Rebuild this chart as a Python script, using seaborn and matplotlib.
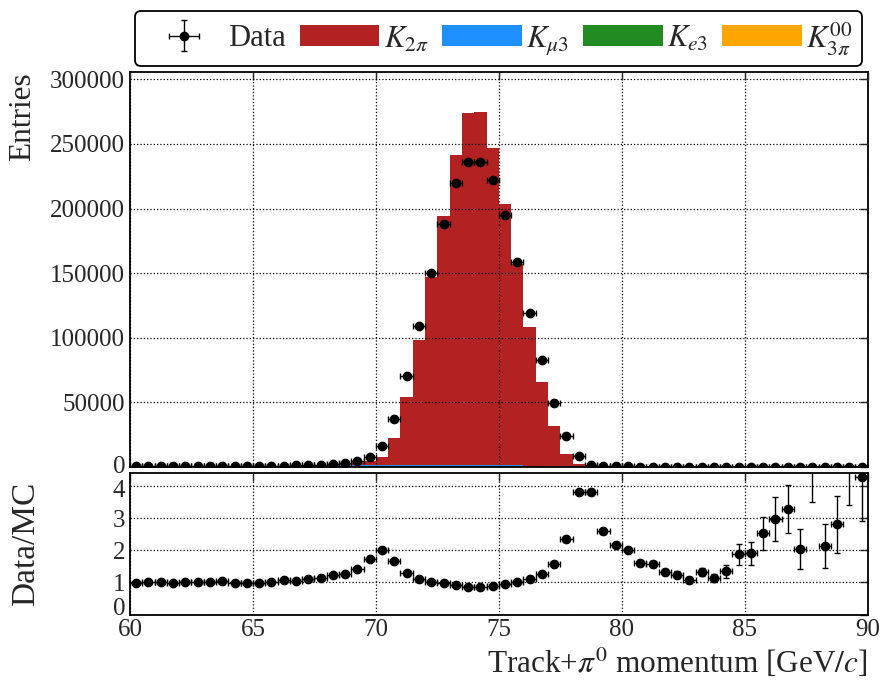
import numpy as np
import pandas as pd
import matplotlib
matplotlib.use("Agg")
import matplotlib.pyplot as plt
from matplotlib.patches import Patch
from matplotlib.transforms import ScaledTranslation
import seaborn as sns

# Binning: 60 bins of 0.5 GeV/c between 60 and 90 GeV/c
bin_edges = np.linspace(60.0, 90.0, 61)
bin_centers = 0.5 * (bin_edges[:-1] + bin_edges[1:])

# Observed entries per bin
data_counts = np.array([
    650, 680, 700, 720, 750, 780, 820, 860, 900, 950,
    1000, 1080, 1180, 1300, 1500, 1900, 2600, 3500, 5000, 7600,
    16100, 36800, 70200, 109200, 149800, 188200, 219800, 235800, 236300, 222300,
    195000, 158500, 119500, 83100, 49800, 24200, 8400, 1950, 1160, 720,
    470, 320, 240, 190, 150, 110, 95, 80, 45, 33,
    26, 25, 19, 20, 11, 10, 10, 10, 9, 10,
], dtype=float)

# Simulated components (entries per bin)
mc_k2pi = np.array([
    120, 123, 135, 157, 155, 165, 174, 185, 229, 259,
    270, 289, 288, 382, 424, 592, 891, 1358, 2031, 2708,
    6250, 20429, 52240, 96608, 145093, 192241, 239758, 272416, 273017, 245290,
    201625, 155661, 107596, 65142, 30899, 9818, 1865, 262, 248, 182,
    116, 103, 70, 71, 56, 46, 25, 26, 12.6, 5.6,
    4.2, 3.1, 2.0, 1.9, 1.9, 0.56, 1.4, 1.16, 0.46, 0.64,
])
mc_kmu3 = np.array([
    300, 300, 310, 320, 330, 340, 350, 360, 380, 400,
    420, 440, 460, 520, 560, 650, 800, 950, 1050, 1150,
    1200, 1220, 1240, 1250, 1250, 1260, 1260, 1250, 1230, 1200,
    1000, 800, 600, 400, 250, 150, 80, 50, 40, 30,
    25, 22, 20, 18, 16, 14, 12, 11, 8, 5,
    4, 3, 2, 2, 1.5, 0.6, 1.4, 1.0, 0.5, 0.7,
])
mc_ke3 = np.array([
    100, 100, 100, 105, 105, 110, 110, 115, 120, 125,
    130, 130, 135, 140, 150, 160, 170, 180, 190, 200,
    200, 200, 200, 200, 200, 200, 200, 200, 200, 190,
    180, 160, 140, 120, 100, 80, 60, 50, 40, 30,
    25, 20, 18, 16, 14, 12, 10, 9, 5, 3,
    2.5, 1.8, 1.2, 1.1, 1.0, 0.4, 0.9, 0.7, 0.4, 0.5,
])
mc_k3pi00 = np.array([
    150, 150, 155, 160, 160, 165, 170, 175, 180, 185,
    190, 200, 210, 220, 230, 250, 270, 290, 300, 310,
    320, 320, 320, 320, 320, 320, 320, 320, 320, 320,
    320, 310, 300, 290, 270, 250, 200, 150, 120, 90,
    70, 55, 45, 40, 35, 30, 25, 24, 8, 4,
    3, 2, 1.2, 1.1, 1.0, 0.4, 1.0, 0.7, 0.4, 0.5,
])

component_labels = [r"$K_{2\pi}$", r"$K_{\mu3}$", r"$K_{e3}$", r"$K_{3\pi}^{00}$"]
component_colors = ["#b22222", "#1e90ff", "#228b22", "#ffa500"]
x_ticks = [60, 65, 70, 75, 80, 85, 90]
top_yticks = [0, 50000, 100000, 150000, 200000, 250000, 300000]
ratio_yticks = [0, 1, 2, 3, 4]

# Long-form table for the stacked histogram
mc_table = pd.concat([
    pd.DataFrame({"p": bin_centers, "n": vals, "comp": lab})
    for vals, lab in zip([mc_k2pi, mc_kmu3, mc_ke3, mc_k3pi00], component_labels)
], ignore_index=True)

mc_total = mc_k2pi + mc_kmu3 + mc_ke3 + mc_k3pi00
ratio = data_counts / mc_total
ratio_err = ratio / np.sqrt(data_counts)

sns.set_style("white")
plt.rcParams.update({
    "font.family": ["Liberation Serif", "DejaVu Serif"],
    "mathtext.fontset": "stix",
    "axes.linewidth": 1.3,
    "xtick.direction": "in",
    "ytick.direction": "in",
    "xtick.top": True,
    "ytick.right": True,
    "xtick.major.size": 6,
    "ytick.major.size": 6,
    "xtick.major.width": 1.0,
    "ytick.major.width": 1.0,
    "xtick.labelsize": 18,
    "ytick.labelsize": 18,
    "axes.edgecolor": "black",
})

fig = plt.figure(figsize=(8.82, 6.86), dpi=100)
ax = fig.add_axes([0.1474, 0.3192, 0.8364, 0.5754])
axr = fig.add_axes([0.1474, 0.1042, 0.8364, 0.2063])


def nudge(label, dy_px):
    """Shift a tick label vertically by a few pixels."""
    label.set_transform(label.get_transform()
                        + ScaledTranslation(0, dy_px / fig.dpi, fig.dpi_scale_trans))


# Stacked simulation
sns.histplot(
    data=mc_table, x="p", weights="n", hue="comp",
    hue_order=component_labels, palette=component_colors,
    bins=list(bin_edges), multiple="stack", element="step", fill=True,
    alpha=1.0, linewidth=0, legend=False, ax=ax,
)

# Data points
data_eb = ax.errorbar(
    bin_centers, data_counts, xerr=0.25, yerr=np.sqrt(data_counts),
    fmt="o", color="black", markersize=6, elinewidth=1.0, capsize=2.5,
    capthick=1.0, zorder=5,
)

ax.set_xlim(60, 90)
ax.set_ylim(0, 305400)
ax.set_xticks(x_ticks)
ax.set_xticklabels([])
ax.set_yticks(top_yticks)
ax.set_yticklabels([str(v) for v in top_yticks])
ax.set_xlabel("")
ax.set_ylabel("Entries", fontsize=22.5, loc="top")
ax.yaxis.set_label_coords(-0.126, 1.0)
ax.grid(True, linestyle=":", color="black", linewidth=0.9)
ax.set_axisbelow(False)
for gl in ax.get_xgridlines() + ax.get_ygridlines():
    gl.set_zorder(2)

# Ratio panel
axr.errorbar(
    bin_centers, ratio, xerr=0.25, yerr=ratio_err,
    fmt="o", color="black", markersize=6, elinewidth=1.0, capsize=2.5,
    capthick=1.0, zorder=5,
)
axr.set_xlim(60, 90)
axr.set_ylim(0, 4.4)
axr.set_xticks(x_ticks)
axr.set_xticklabels([str(v) for v in x_ticks])
axr.set_yticks(ratio_yticks)
axr.set_yticklabels([str(v) for v in ratio_yticks])
axr.grid(True, linestyle=":", color="black", linewidth=0.9)
axr.set_ylabel("Data/MC", fontsize=24)
axr.yaxis.set_label_coords(-0.12, 0.5)
axr.set_xlabel(r"Track+$\pi^0$ momentum [GeV$/c$]", fontsize=22.5, loc="right")

# Keep the stacked "0"/"4" and "0"/"60" labels at the panel junctions apart
top_labels = ax.get_yticklabels()
ratio_labels = axr.get_yticklabels()
nudge(top_labels[0], 2.5)
nudge(ratio_labels[-1], -3.0)
ratio_labels[0].set_verticalalignment("bottom")
nudge(ratio_labels[0], -5)

handles = [data_eb] + [Patch(facecolor=c, edgecolor="none") for c in component_colors]
labels = ["Data"] + component_labels
leg = fig.legend(
    handles, labels, ncol=5, mode="expand", loc="lower left",
    bbox_to_anchor=(135 / 882, 1 - 66 / 686, 727 / 882, 0.0),
    bbox_transform=fig.transFigure, fontsize=22, handlelength=2.6,
    handletextpad=0.15, borderaxespad=0.0, borderpad=0.3, frameon=True,
    fancybox=True, framealpha=1.0,
)
leg.get_frame().set_edgecolor("black")
leg.get_frame().set_linewidth(1.3)

fig.savefig("out.png", dpi=100)
